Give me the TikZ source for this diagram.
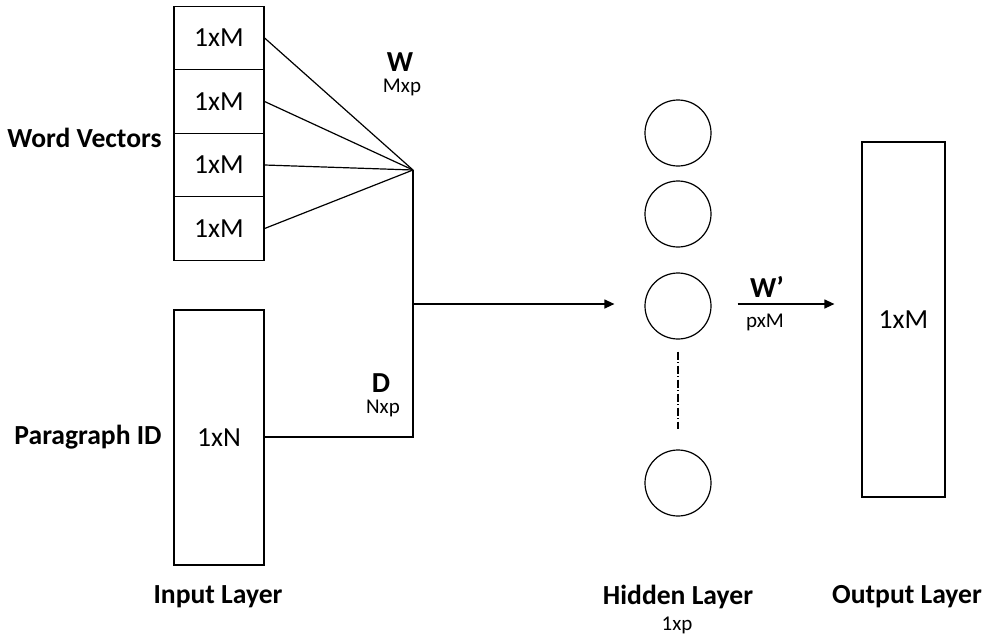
\documentclass[tikz,border=0pt]{standalone}
\usepackage{fontspec}
\setmainfont{Carlito}
\usetikzlibrary{arrows.meta,positioning}
\tikzset{
  vecbox/.style={draw,line width=0.6pt,minimum width=45pt,minimum height=31.75pt,
    inner sep=0pt,font=\fontsize{13.8}{16}\selectfont},
  neuron/.style={draw,circle,line width=0.6pt,minimum size=33pt,inner sep=0pt},
  side/.style={font=\bfseries\fontsize{13.8}{16}\selectfont,anchor=east,inner sep=0pt},
  layer/.style={font=\bfseries\fontsize{13.8}{16}\selectfont,inner sep=0pt},
  wname/.style={font=\bfseries\fontsize{14.5}{16}\selectfont,inner sep=0pt},
  dims/.style={font=\fontsize{10.5}{12}\selectfont,inner sep=0pt},
  wire/.style={line width=0.6pt},
  flow/.style={-{Triangle[length=5pt,width=4.5pt]},line width=0.6pt}
}
\begin{document}
\begin{tikzpicture}[x=0.5pt,y=-0.5pt]
  \useasboundingbox (0,0) rectangle (985,638);
  % input layer
  \foreach \i/\y in {1/38,2/101.5,3/165,4/228.5}
    \node[vecbox] (wv\i) at (219,\y) {1xM};
  \node[vecbox,minimum height=127.5pt] (pid) at (219,437.5) {1xN};
  \node[side] (wvlab) at (162,138) {Word Vectors};
  \node[side] (pidlab) at (162,437) {Paragraph ID};
  % merge point
  \coordinate (w) at (413,170);
  \coordinate (j) at (413,304);
  \coordinate (d) at (413,437);
  \node[wname] (wlab) at (400,62) {W};
  \node[dims] (wdim) at (402,87) {Mxp};
  \node[wname] (dlab) at (381,383) {D};
  \node[dims] (ddim) at (383,408) {Nxp};
  % hidden layer
  \node[neuron] (h1) at (678,133) {};
  \node[neuron] (h2) at (678,214) {};
  \node[neuron] (h3) at (678,306) {};
  \node[neuron] (h4) at (678,483) {};
  % output layer
  \node[vecbox,minimum width=41.5pt,minimum height=177.5pt] (out) at (903.5,319.5) {1xM};
  \node[wname] (wplab) at (767,287) {W’};
  \node[dims] (wpdim) at (765,322) {pxM};

  \foreach \i in {1,...,4}
    \draw[wire] (wv\i.east) -- (w);
  \draw[wire] (pid.east |- d) -- (d) -- (w);
  \draw[flow,shorten >=15pt] (j) -- (h3.west |- j);
  \draw[wire,dash pattern=on 4pt off 1.2pt on 0.6pt off 1.2pt,shorten <=6pt,shorten >=10pt]
    (h3.south) -- (h4.north);
  \draw[flow,shorten <=13pt,shorten >=13.5pt] (h3.east |- j) -- (out.west |- j);

  \node[layer] (inlab) at (218,597) {Input Layer};
  \node[layer] (hidlab) at (678,597) {Hidden Layer};
  \node[dims] (hiddim) at (677,625) {1xp};
  \node[layer] (outlab) at (907,597) {Output Layer};
\end{tikzpicture}
\end{document}
